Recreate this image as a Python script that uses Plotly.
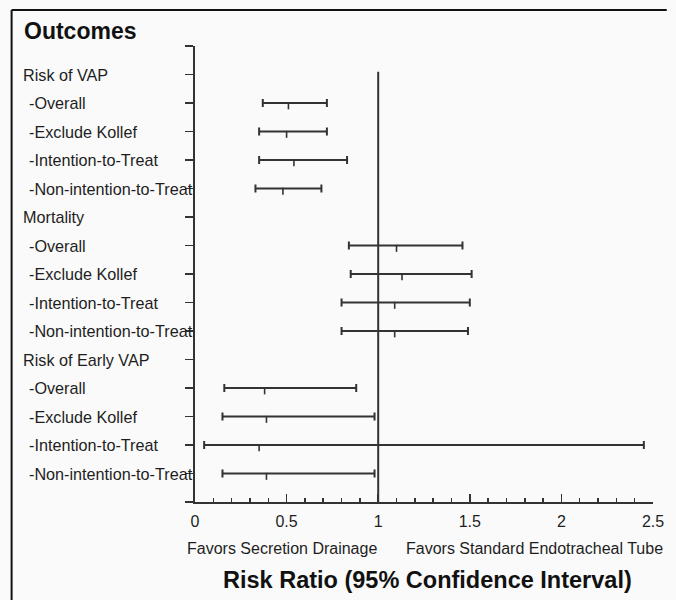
import plotly.graph_objects as go

# ---- data ----
labels = ["Risk of VAP", "-Overall", "-Exclude Kollef", "-Intention-to-Treat", "-Non-intention-to-Treat",
          "Mortality", "-Overall", "-Exclude Kollef", "-Intention-to-Treat", "-Non-intention-to-Treat",
          "Risk of Early VAP", "-Overall", "-Exclude Kollef", "-Intention-to-Treat", "-Non-intention-to-Treat"]
rows = [2, 3, 4, 5, 7, 8, 9, 10, 12, 13, 14, 15]
rr = [0.51, 0.50, 0.54, 0.48, 1.10, 1.13, 1.09, 1.09, 0.38, 0.39, 0.35, 0.39]
lo = [0.37, 0.35, 0.35, 0.33, 0.84, 0.85, 0.80, 0.80, 0.16, 0.15, 0.05, 0.15]
hi = [0.72, 0.72, 0.83, 0.69, 1.46, 1.51, 1.50, 1.49, 0.88, 0.98, 2.45, 0.98]
xticks = [0, 0.5, 1, 1.5, 2, 2.5]
xticklabels = ["0", "0.5", "1", "1.5", "2", "2.5"]

INK = "#333333"
TXT = "#1e1e1e"
FONT = "Liberation Sans, Arial, sans-serif"

W, H = 676, 600
L, R, T, B = 195, 14, 46, 98
pw, ph = W - L - R, H - T - B


def px_x(p):
    return (p - L) / pw


def px_y(p):
    return (H - B - p) / ph


fig = go.Figure()
fig.add_trace(go.Scatter(
    x=rr, y=rows, mode="markers",
    marker=dict(size=0.1, color=INK, opacity=0),
    error_x=dict(type="data", symmetric=False,
                 array=[h - m for h, m in zip(hi, rr)],
                 arrayminus=[m - l for m, l in zip(rr, lo)],
                 color=INK, thickness=2, width=4),
    hoverinfo="skip", showlegend=False))
fig.add_trace(go.Scatter(
    x=rr, y=[r + 0.1 for r in rows], mode="markers",
    marker=dict(symbol="line-ns", size=5, line=dict(color=INK, width=1.6)),
    hoverinfo="skip", showlegend=False))

# reference line at RR = 1
fig.add_shape(type="line", xref="x", yref="y", x0=1, x1=1, y0=0.9, y1=16,
              line=dict(color=INK, width=2))

# row labels
for i, lab in enumerate(labels):
    sub = lab.startswith("-")
    fig.add_annotation(xref="paper", yref="y", x=px_x(23.5 if sub else 17.5), y=i + 1,
                       text=lab, showarrow=False, xanchor="left", yanchor="middle",
                       font=dict(family=FONT, size=16.2, color=TXT))

fig.add_annotation(xref="paper", yref="paper", x=px_x(18.5), y=px_y(31), text="<b>Outcomes</b>",
                   showarrow=False, xanchor="left", yanchor="middle",
                   font=dict(family=FONT, size=23, color="#111111"))
fig.add_annotation(xref="paper", yref="paper", x=px_x(284), y=px_y(548),
                   text="Favors Secretion Drainage", showarrow=False,
                   xanchor="center", yanchor="middle",
                   font=dict(family=FONT, size=16, color=TXT))
fig.add_annotation(xref="paper", yref="paper", x=px_x(541), y=px_y(548),
                   text="Favors Standard Endotracheal Tube", showarrow=False,
                   xanchor="center", yanchor="middle",
                   font=dict(family=FONT, size=16, color=TXT))
fig.add_annotation(xref="paper", yref="paper", x=px_x(432), y=px_y(580),
                   text="<b>Risk Ratio (95% Confidence Interval)</b>", showarrow=False,
                   xanchor="center", yanchor="middle",
                   font=dict(family=FONT, size=23.5, color="#111111"))

# frame (top and left edges)
fig.add_shape(type="line", xref="paper", yref="paper", x0=px_x(8), x1=px_x(676),
              y0=px_y(10), y1=px_y(10), line=dict(color="#111111", width=2))
fig.add_shape(type="line", xref="paper", yref="paper", x0=px_x(8), x1=px_x(8),
              y0=px_y(10), y1=px_y(600), line=dict(color="#111111", width=2))

fig.update_xaxes(range=[0, 2.5], showline=True, linecolor=INK, linewidth=2,
                 showgrid=False, zeroline=False, tickmode="array",
                 tickvals=xticks, ticktext=xticklabels,
                 ticks="inside", ticklen=8, tickwidth=1.5, tickcolor=INK,
                 minor=dict(dtick=0.1, ticks="inside", ticklen=4, tickwidth=1.5,
                            tickcolor=INK, showgrid=False),
                 tickfont=dict(family=FONT, size=16, color=TXT), ticklabelstandoff=4)
fig.update_yaxes(range=[16, 0], showline=True, linecolor=INK, linewidth=2,
                 showgrid=False, zeroline=False, tickmode="array",
                 tickvals=list(range(17)), ticktext=[""] * 17,
                 ticks="outside", ticklen=8, tickwidth=1.5, tickcolor=INK)

fig.update_layout(width=W, height=H, margin=dict(l=L, r=R, t=T, b=B),
                  paper_bgcolor="#fafafa", plot_bgcolor="#fafafa",
                  showlegend=False)

fig.write_html("out.html", config={"displayModeBar": False, "staticPlot": True},
               post_script=("document.body.style.margin='0';"
                            "document.body.style.overflow='hidden';"
                            "document.documentElement.style.overflow='hidden';"
                            "document.body.style.background='#fafafa';"))
